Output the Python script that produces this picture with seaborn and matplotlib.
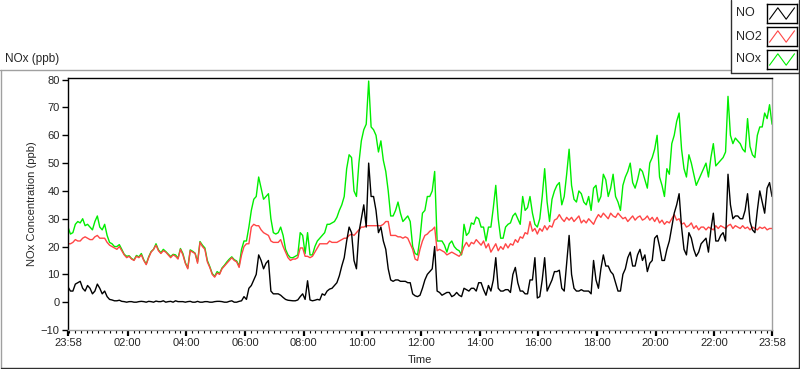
import matplotlib

matplotlib.use("Agg")
import matplotlib.pyplot as plt
import numpy as np
import pandas as pd
import seaborn as sns
from matplotlib.lines import Line2D
from matplotlib.ticker import FixedLocator, MultipleLocator

# one sample every 5 minutes, starting at 23:58 the previous day
start_hour = -2 / 60
step_hours = 5 / 60

no = [
    5.5, 4, 4, 6.5, 7, 7.5, 5, 4, 6, 5, 3, 4, 6.5, 5, 3, 4, 2, 1, 0.8, 0.5,
    0.5, 0.7, 0.3, 0.2, 0, 0.2, 0.2, 0, 0, 0.2, 0.3, 0.2, 0, 0.3, 0.2, 0, 0.4, 0.2, 0.2, 0.5,
    0, 0.2, 0.3, 0, 0.5, 0.2, 0.2, 0.2, 0, 0.2, 0.3, 0, 0, 0.3, 0, 0, 0.2, 0.2, 0, 0,
    0.2, 0.3, 0.3, 0.2, 0, 0, 0.3, 0.5, 0, 0, 0.3, 0.5, 2, 1, 5, 6, 8, 10, 17, 15,
    12, 14, 15, 4, 3, 3, 3, 2.5, 1.7, 1, 0.7, 0.6, 0.5, 0.5, 0.8, 2, 3, 1, 7.7, 0.8,
    0.5, 0.7, 1, 0.8, 3, 2.5, 4, 4.7, 5, 6, 7, 9.5, 13, 16, 22, 27, 25, 15, 12, 25,
    30, 35, 27, 50, 38, 38, 33, 25, 27, 22, 19, 12, 8, 7.5, 8, 8, 7.5, 7.5, 7.5, 7,
    7, 3, 2.3, 2, 2.5, 5, 8, 10, 11, 12, 20, 4, 3.5, 2.5, 3, 3.5, 3.5, 2, 2.5, 3.5,
    2.5, 2, 5, 4.5, 4, 5, 5, 4, 7, 7, 4.5, 2.5, 6, 4, 8, 16, 5, 4, 4, 4.5,
    4.5, 3.5, 10, 12.5, 7, 4, 4, 3, 3, 8, 8, 16, 1.5, 2, 8, 16, 4, 6, 8, 11,
    11, 11.5, 5, 4, 14, 24, 10, 5, 4, 4, 4.5, 4, 4, 4, 3, 15, 8, 5, 12, 17,
    13, 13, 11, 10, 7, 4, 4, 10, 12, 16, 18, 13, 13, 17, 19, 15, 17, 11, 14, 15,
    23, 24, 20, 15, 15, 19, 22, 27, 32, 35, 39, 27, 19, 17, 25, 23, 19, 16.5, 18, 21,
    22, 23, 18, 26, 32, 22, 22, 24, 25, 22, 46, 35, 30, 31, 31, 30, 30, 33, 39, 29,
    26, 25, 33, 40, 36, 32, 41, 43, 38,
]
no2 = [
    21, 21, 21.5, 22.5, 22, 22, 23, 23.5, 23, 22.5, 22.5, 23.5, 24, 23, 23, 23, 21.5, 20.5, 20, 19.5,
    19, 20, 18.5, 17, 16, 16.5, 15.5, 15, 16.5, 16, 17, 15, 13.5, 16, 18, 19, 20.5, 18.5, 17.5, 18.5,
    18, 17, 16, 17, 16.5, 15.5, 19, 17, 14, 12, 18.5, 18, 17.5, 14, 21.5, 20, 19, 14.5, 12.5, 10,
    9, 10.5, 10, 12, 13, 14, 15, 16, 15, 14.5, 12.5, 17, 20, 21, 21, 27, 28, 27.5, 27.5, 26,
    25, 24.5, 24, 22, 21.5, 21.5, 21.5, 22.5, 20, 18, 16, 15, 15.5, 15.5, 16, 19.5, 19.5, 16.5, 16.5, 16,
    16.5, 18, 19.5, 21, 21, 21, 21, 22, 21.5, 21.5, 21.5, 22, 22.5, 23, 23, 24, 24.5, 24, 25, 26,
    27, 27, 27.5, 27.5, 27.5, 27.5, 27.5, 27.5, 27.5, 28, 29, 29, 24, 24, 24, 23.5, 23.5, 23, 23.5, 23,
    21, 19, 15.5, 15, 19, 22, 24, 24.5, 25.5, 26, 27, 18.5, 19, 18.5, 18, 17, 17.5, 18, 17.5, 17,
    16.5, 17.5, 20, 21.5, 20, 21.5, 21, 22.5, 21.5, 20.5, 22, 19.5, 21, 18, 19.5, 21, 18.5, 20, 19, 21,
    19.5, 21, 20.5, 22.5, 21.5, 23.5, 23, 25, 24.5, 29, 25.5, 26.5, 24.5, 26.5, 25.5, 27.5, 26, 27.5, 27, 29.5,
    30, 31.5, 30, 29, 30.5, 29.5, 30.5, 29, 30, 31, 28.5, 29.5, 28.5, 30, 29, 28, 30, 31.5, 30.5, 32,
    31, 30, 32, 31, 30.5, 32, 31, 30, 30.5, 29, 30, 31, 29.5, 30.5, 31, 29.5, 30, 31, 29.5, 30.5,
    29, 30.5, 28.5, 29.5, 28, 29, 28.5, 30, 31.5, 29.5, 30, 28, 28.5, 27, 27.5, 28.5, 26.5, 27.5, 26, 27,
    27, 26, 27, 26.5, 26, 27.5, 26.5, 27.5, 27, 26.5, 27.5, 28, 26.5, 27.5, 27, 26.5, 27.5, 26.5, 27, 26,
    27, 26.5, 26, 27, 26.5, 27, 26, 26.5, 26.5,
]
nox = [
    27, 24.5, 25, 28, 29, 28.5, 30, 27.5, 28, 27, 26, 29, 31, 27, 26, 28, 24, 21.5, 21, 20,
    20, 20.7, 19, 17.2, 16.5, 16.7, 15.7, 15.2, 16.8, 16.3, 17.5, 15.2, 13.7, 16.3, 18.2, 19, 21, 18.8, 17.8, 19,
    18.2, 17.3, 16.4, 17.2, 17, 15.8, 19.3, 17.5, 14.2, 12.3, 18.8, 18.3, 17.6, 14.5, 21.8, 20.5, 19.5, 15, 12.8, 10.3,
    9.3, 11, 10.3, 12.3, 13.3, 14.5, 15.5, 16.3, 15.3, 14.8, 13, 19, 22, 22, 27, 33, 37, 38, 45, 41,
    37, 38, 39, 30, 25, 24.5, 25, 27, 24, 19, 17, 16, 16, 16.5, 17, 25, 24, 17.5, 25, 17,
    17, 20, 22, 23, 24, 25, 28, 28, 28.5, 29, 30.5, 33, 35, 38, 48, 53, 52, 40, 38, 50,
    58, 62, 64, 79.5, 63, 62, 60, 54, 58, 51, 47, 40, 31, 31, 33, 36, 32, 29, 30, 31,
    29, 20, 17.5, 17, 23, 32, 33, 38, 38, 40, 47, 22, 22, 22, 20.5, 18, 21, 22, 20, 19,
    18.5, 17, 28, 24, 25, 28.5, 28, 30.6, 30, 27, 27, 22, 27, 27, 34, 42, 30, 23, 23, 27,
    28, 28.5, 31, 32, 30, 28, 38, 33, 34, 38, 32, 28, 27, 30, 38, 48, 36, 29, 37, 40,
    42, 43, 35, 38, 46, 55, 42, 37, 36, 40, 39, 36, 35, 38, 33, 41, 42, 36, 38, 46,
    44, 38, 41, 46, 38, 36, 33, 42, 45, 47, 50, 43, 41, 44, 48, 47, 44, 41, 50, 52,
    55, 60, 45, 42, 38, 48, 46, 57, 60, 65, 68, 55, 48, 45, 53, 50, 46, 42, 44, 46,
    48, 50, 45, 52, 57, 49, 50, 51, 52, 54, 74, 60, 57, 59, 58, 57, 55, 54, 66, 56,
    53, 52, 60, 63, 63, 68, 66, 71, 64,
]

series_names = ["NO", "NO2", "NOx"]
series_colors = {"NO": "#000000", "NO2": "#ff4646", "NOx": "#00ee00"}
tick_hours = [start_hour, 2, 4, 6, 8, 10, 12, 14, 16, 18, 20, 22, 24 + start_hour]
tick_labels = ["23:58", "02:00", "04:00", "06:00", "08:00", "10:00", "12:00",
               "14:00", "16:00", "18:00", "20:00", "22:00", "23:58"]
y_ticks = [-10, 0, 10, 20, 30, 40, 50, 60, 70, 80]

hours = start_hour + step_hours * np.arange(len(no))
df = pd.DataFrame({"hour": hours, "NO": no, "NO2": no2, "NOx": nox})
long_df = df.melt(id_vars="hour", var_name="species", value_name="ppb")

sns.set_style("white")
plt.rcParams["font.family"] = ["Liberation Sans", "DejaVu Sans"]
plt.rcParams["font.size"] = 8

W, H = 800, 369


def fx(x):
    return x / W


def fy(y):
    return 1 - y / H


def fig_line(x0, y0, x1, y1, color):
    fig.add_artist(Line2D([fx(x0), fx(x1)], [fy(y0), fy(y1)], color=color, lw=1))


fig = plt.figure(figsize=(W / 100, H / 100), dpi=100)
ax = fig.add_axes([fx(68), fy(330), (772 - 68) / W, (330 - 78) / H])

# NOx underneath, NO2 over it, NO on top
sns.lineplot(
    data=long_df, x="hour", y="ppb", hue="species",
    hue_order=["NOx", "NO2", "NO"], palette=series_colors,
    linewidth=1.0, legend=False, ax=ax,
)

ax.set_xlim(start_hour, 24 + start_hour)
ax.set_ylim(-10, 80.6)
ax.xaxis.set_major_locator(FixedLocator(tick_hours))
ax.set_xticklabels(tick_labels)
ax.xaxis.set_minor_locator(MultipleLocator(0.2))
ax.set_yticks(y_ticks)
ax.tick_params(axis="both", which="major", direction="out", length=4, width=1,
               color="black", labelsize=8, pad=2, bottom=True, left=True)
ax.tick_params(axis="x", which="major", width=1.6, length=4)
ax.tick_params(axis="x", which="minor", direction="out", length=2.5, width=0.8,
               color="black", bottom=True)
ax.set_xlabel("Time", fontsize=8, labelpad=5)
ax.set_ylabel("NOx Concentration (ppb)", fontsize=8, labelpad=3)

ax.spines["top"].set_color("black")
ax.spines["left"].set_color("black")
ax.spines["right"].set_color("#a0a0a0")
ax.spines["bottom"].set_color("#a0a0a0")
for side in ax.spines.values():
    side.set_linewidth(1)
    side.set_visible(True)

# panel frame around the graph: light top/left, dark bottom/right
light, dark = "#a0a0a0", "#303030"
fig_line(0, 69.5, 730, 69.5, light)
fig_line(0.5, 69.5, 0.5, 367.5, light)
fig_line(0.5, 367.5, 799, 367.5, dark)
fig_line(798.5, 72, 798.5, 367.5, dark)
fig.text(fx(5), fy(59), "NOx (ppb)", fontsize=8.5, va="center", ha="left")

# legend panel
fig_line(730.5, 0, 730.5, 72.5, dark)
fig_line(730.5, 72.5, 799, 72.5, dark)
fig_line(798.5, 0, 798.5, 72.5, dark)
row_tops = [4, 27, 50]
for name, top in zip(series_names, row_tops):
    fig.text(fx(736), fy(top + 9.5), name, fontsize=9, va="center", ha="left")
    box = fig.add_axes([fx(767), fy(top + 19), 30 / W, 19 / H])
    box.plot([0, 1, 2, 3], [0.2, 0.8, 0.2, 0.8], color=series_colors[name], lw=0.8)
    box.set_xlim(-0.3, 3.3)
    box.set_ylim(0, 1)
    box.set_xticks([])
    box.set_yticks([])
    for side in box.spines.values():
        side.set_color("black")
        side.set_linewidth(1)

fig.savefig("out.png", dpi=100)
